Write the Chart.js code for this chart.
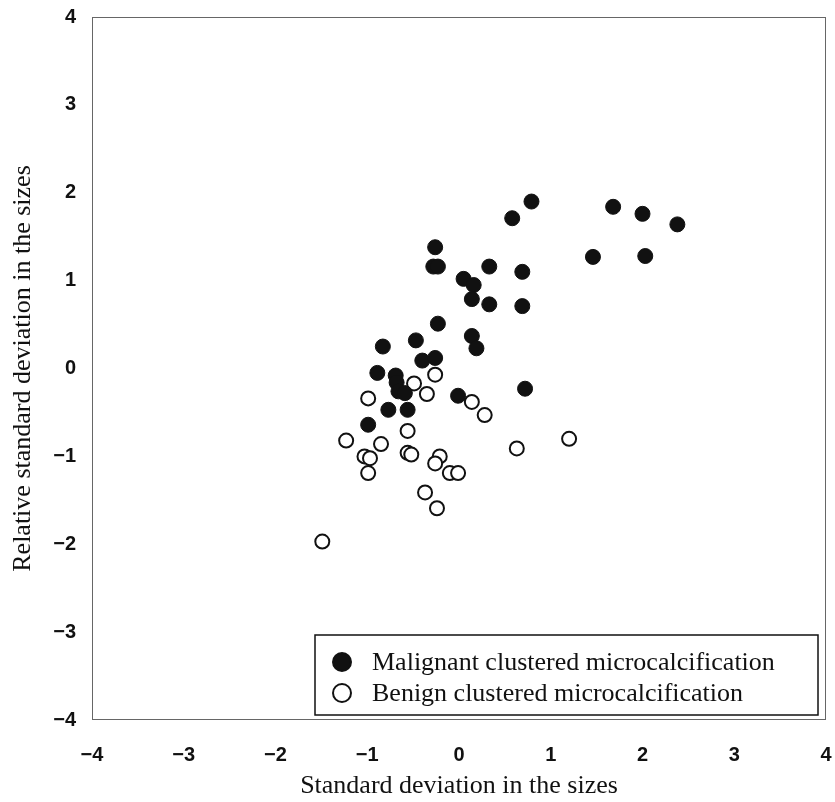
<!DOCTYPE html>
<html>
<head>
<meta charset="utf-8">
<script src="https://cdn.jsdelivr.net/npm/chart.js@4.4.1/dist/chart.umd.min.js"></script>
<style>
  html, body { margin: 0; padding: 0; background: #fff; }
  #wrap { width: 835px; height: 802px; }
</style>
</head>
<body>
<div id="wrap"><canvas id="c" width="835" height="802"></canvas></div>
<script>
const seriesLabels = ['Malignant clustered microcalcification', 'Benign clustered microcalcification'];
const xTitle = 'Standard deviation in the sizes';
const yTitle = 'Relative standard deviation in the sizes';
const xTickLabels = ['\u22124', '\u22123', '\u22122', '\u22121', '0', '1', '2', '3', '4'];
const yTickLabels = ['\u22124', '\u22123', '\u22122', '\u22121', '0', '1', '2', '3', '4'];

const malignantX = [0.79, 0.58, 1.68, 2.00, 2.38, 1.46, 2.03, -0.26, -0.28, -0.23, 0.33, 0.69, 0.05, 0.16, 0.14, 0.33, 0.69, -0.23, 0.14, 0.19, -0.47, -0.83, -0.40, -0.26, -0.89, -0.69, -0.68, -0.66, -0.59, -0.01, 0.72, -0.77, -0.56, -0.99];
const malignantY = [1.90, 1.71, 1.84, 1.76, 1.64, 1.27, 1.28, 1.38, 1.16, 1.16, 1.16, 1.10, 1.02, 0.95, 0.79, 0.73, 0.71, 0.51, 0.37, 0.23, 0.32, 0.25, 0.09, 0.12, -0.05, -0.08, -0.16, -0.26, -0.28, -0.31, -0.23, -0.47, -0.47, -0.64];

const benignX = [-0.26, -0.49, -0.35, -0.99, 0.14, 0.28, -0.56, -1.23, -0.85, 0.63, -1.03, -0.97, -0.56, -0.52, -0.21, -0.26, -0.10, -0.01, -0.99, -0.37, -0.24, -1.49, 1.20];
const benignY = [-0.07, -0.17, -0.29, -0.34, -0.38, -0.53, -0.71, -0.82, -0.86, -0.91, -1.00, -1.02, -0.96, -0.98, -1.00, -1.08, -1.19, -1.19, -1.19, -1.41, -1.59, -1.97, -0.80];

const toPoints = (xs, ys) => xs.map((x, i) => ({ x: x, y: ys[i] }));

const serifFont = '"Liberation Serif", "Times New Roman", serif';
const tickFont = '"Liberation Sans Narrow", "Arial Narrow", "Liberation Sans", sans-serif';

const framePlugin = {
  id: 'frame',
  afterDatasetsDraw(chart) {
    const { ctx, chartArea: a } = chart;
    ctx.save();
    ctx.strokeStyle = '#666';
    ctx.lineWidth = 1;
    ctx.strokeRect(a.left + 0.5, a.top + 0.5, a.right - a.left - 1, a.bottom - a.top - 1);
    ctx.restore();
  }
};

const boxLegend = {
  id: 'boxLegend',
  afterDraw(chart) {
    const { ctx, chartArea: a } = chart;
    const w = 503, h = 80;
    const right = a.right - 8, bottom = a.bottom - 5;
    const left = right - w, top = bottom - h;
    ctx.save();
    ctx.fillStyle = '#fff';
    ctx.fillRect(left, top, w, h);
    ctx.strokeStyle = '#111';
    ctx.lineWidth = 1.5;
    ctx.strokeRect(left, top, w, h);
    ctx.font = '26px ' + serifFont;
    ctx.textBaseline = 'middle';
    chart.data.datasets.forEach((ds, i) => {
      const cy = top + 27 + i * 31;
      const cx = left + 27;
      ctx.beginPath();
      ctx.arc(cx, cy, 9, 0, Math.PI * 2);
      ctx.fillStyle = ds.backgroundColor;
      ctx.fill();
      ctx.lineWidth = 2;
      ctx.strokeStyle = ds.borderColor;
      ctx.stroke();
      ctx.fillStyle = '#111';
      ctx.fillText(ds.label, left + 57, cy + 1);
    });
    ctx.restore();
  }
};

new Chart(document.getElementById('c'), {
  type: 'scatter',
  data: {
    datasets: [
      {
        label: seriesLabels[0],
        data: toPoints(malignantX, malignantY),
        backgroundColor: '#111',
        borderColor: '#111',
        borderWidth: 1,
        pointRadius: 7.5,
        pointHoverRadius: 7.5
      },
      {
        label: seriesLabels[1],
        data: toPoints(benignX, benignY),
        backgroundColor: '#fff',
        borderColor: '#111',
        borderWidth: 2,
        pointRadius: 7,
        pointHoverRadius: 7
      }
    ]
  },
  options: {
    responsive: false,
    animation: false,
    layout: { padding: { top: 17, right: 9, left: 0, bottom: 0 } },
    plugins: {
      legend: { display: false },
      tooltip: { enabled: false }
    },
    scales: {
      x: {
        type: 'linear',
        min: -4, max: 4,
        grid: { display: false, drawTicks: false },
        border: { display: false },
        ticks: {
          stepSize: 1,
          padding: 23,
          color: '#111',
          font: { family: tickFont, size: 20, weight: 'bold' },
          callback: (v) => xTickLabels[Math.round(v) + 4]
        },
        title: {
          display: true,
          text: xTitle,
          color: '#111',
          font: { family: serifFont, size: 26 },
          padding: { top: 0, bottom: 0 }
        },
        afterFit(scale) {
          scale.height = 82;
          scale.paddingLeft = 0;
          scale.paddingRight = 0;
        }
      },
      y: {
        type: 'linear',
        min: -4, max: 4,
        grid: { display: false, drawTicks: false },
        border: { display: false },
        ticks: {
          stepSize: 1,
          padding: 16,
          color: '#111',
          font: { family: tickFont, size: 20, weight: 'bold' },
          callback: (v) => yTickLabels[Math.round(v) + 4]
        },
        title: {
          display: true,
          text: yTitle,
          color: '#111',
          font: { family: serifFont, size: 26 },
          padding: { top: 8, bottom: 0 }
        },
        afterFit(scale) {
          scale.width = 92;
          scale.paddingTop = 0;
          scale.paddingBottom = 0;
        }
      }
    }
  },
  plugins: [framePlugin, boxLegend]
});
</script>
</body>
</html>
